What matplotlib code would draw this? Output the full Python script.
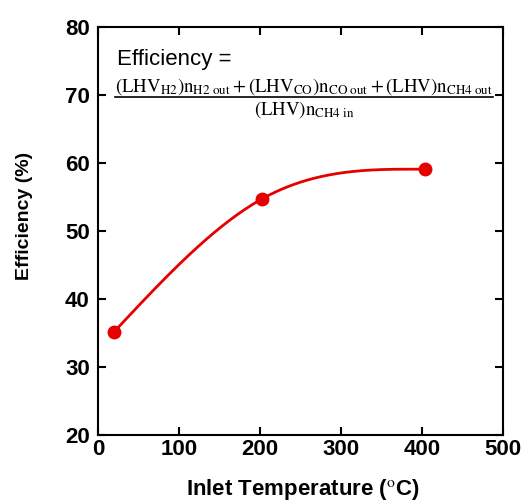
import numpy as np
import matplotlib.pyplot as plt

temperature = [20, 202, 404]
efficiency = [35.2, 54.7, 59.1]

x_ticks = [0, 100, 200, 300, 400, 500]
y_ticks = [20, 30, 40, 50, 60, 70, 80]

plt.rcParams['font.family'] = ['Liberation Sans', 'DejaVu Sans']
plt.rcParams['mathtext.fontset'] = 'stix'

fig = plt.figure(figsize=(5.27, 5.04), dpi=100)
ax = fig.add_axes([0.186, 0.137, 0.768, 0.809])
ax.set_xlim(0, 500)
ax.set_ylim(20, 80)


def smooth(xd, yd, n=80):
    # cubic hermite through the points, interior slopes from neighbouring
    # chords, natural (zero curvature) ends
    x = np.asarray(xd, float) / 500
    y = (np.asarray(yd, float) - 20) / 60
    h = np.diff(x)
    d = np.diff(y) / h
    m = np.zeros_like(x)
    m[1:-1] = (d[:-1] * h[1:] + d[1:] * h[:-1]) / (h[:-1] + h[1:])
    m[0] = (3 * d[0] - m[1]) / 2
    m[-1] = (3 * d[-1] - m[-2]) / 2
    t = np.linspace(0, 1, n)
    xs, ys = [], []
    for i in range(len(x) - 1):
        h00 = 2 * t ** 3 - 3 * t ** 2 + 1
        h10 = t ** 3 - 2 * t ** 2 + t
        h01 = -2 * t ** 3 + 3 * t ** 2
        h11 = t ** 3 - t ** 2
        xs.append(x[i] + t * h[i])
        ys.append(h00 * y[i] + h10 * h[i] * m[i] + h01 * y[i + 1] + h11 * h[i] * m[i + 1])
    return np.concatenate(xs) * 500, np.concatenate(ys) * 60 + 20


sx, sy = smooth(temperature, efficiency)
ax.plot(sx, sy, color='#e60000', lw=2)
ax.plot(temperature, efficiency, 'o', color='#e60000', ms=9)

ax.set_xticks(x_ticks)
ax.set_yticks(y_ticks)
ax.tick_params(direction='in', top=True, right=True, length=6, width=1.5,
               labelsize=16)
ax.tick_params(axis='x', pad=3)
ax.tick_params(axis='y', pad=6)
for lab in ax.get_xticklabels() + ax.get_yticklabels():
    lab.set_fontweight('bold')
for s in ax.spines.values():
    s.set_linewidth(1.5)

ax.set_xlabel('Inlet Temperature ($^\\mathrm{o}$C)', fontsize=16, fontweight='bold')
ax.set_ylabel('Efficiency (%)', fontsize=14, fontweight='bold')
ax.xaxis.set_label_coords(0.505, -0.103)
ax.yaxis.set_label_coords(-0.16, 0.537)

# formula box
fig.text(0.222, 0.872, 'Efficiency =', fontsize=16)
num = (r'$(\mathrm{LHV_{H2}})\mathrm{n_{H2\ out}}+(\mathrm{LHV_{CO}})\mathrm{n_{CO\ out}}'
       r'+(\mathrm{LHV})\mathrm{n_{CH4\ out}}$')
den = r'$(\mathrm{LHV})\mathrm{n_{CH4\ in}}$'
fig.text(0.577, 0.819, num, fontsize=13.5, ha='center', va='baseline')
fig.add_artist(plt.Line2D([0.218, 0.936], [0.8075, 0.8075], color='black', lw=1.2,
                          transform=fig.transFigure))
fig.text(0.577, 0.772, den, fontsize=13.5, ha='center', va='baseline')

fig.savefig('out.png', dpi=100)
